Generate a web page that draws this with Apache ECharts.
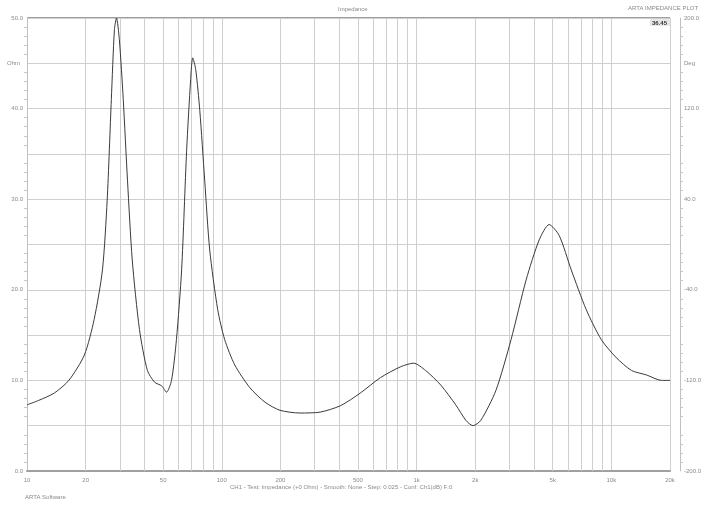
<!DOCTYPE html>
<html><head><meta charset="utf-8">
<script src="https://cdn.jsdelivr.net/npm/echarts@6/dist/echarts.min.js"></script>
<style>html,body{margin:0;padding:0;background:#fff}#c{width:705px;height:508px}</style>
</head><body><div id="c"></div>
<script>
// Frequency (Hz) and impedance magnitude (Ohm)
const freqs = [10, 11.5, 13.8, 16.4, 19.7, 22.1, 24.4, 25.8, 27.1, 28.1, 28.8, 29.8, 31.2, 32.8, 34.7, 37.8, 41.5, 45.2, 49.1, 52.0, 55.2, 58.5, 62.2, 66.0, 69.2, 70.9, 73.5, 77.1, 81.7, 86.7, 95.3, 103.5, 116.6, 139.3, 166.6, 199, 252, 320, 406, 514, 652, 827, 966, 1112, 1329, 1589, 1790, 1946, 2138, 2555, 3055, 3652, 4261, 4790, 5395, 6223, 7433, 8880, 10610, 12680, 15150, 18110, 20000];
const ohms  = [7.3, 7.8, 8.6, 10.0, 12.8, 16.7, 22.2, 29.9, 41.0, 48.7, 50.0, 47.6, 41.0, 32.1, 23.3, 15.6, 11.1, 9.8, 9.4, 8.7, 10.0, 14.5, 22.2, 35.4, 43.2, 45.6, 44.3, 39.8, 32.1, 24.4, 17.8, 14.5, 11.7, 9.2, 7.6, 6.7, 6.4, 6.5, 7.2, 8.6, 10.3, 11.5, 11.9, 11.1, 9.5, 7.3, 5.6, 5.0, 5.6, 8.9, 14.5, 21.1, 25.5, 27.2, 26.0, 22.2, 17.8, 14.5, 12.5, 11.1, 10.6, 10.0, 10.0];
// Minor frequency grid lines and the ones that carry a label
const gridFreqs = [20,30,40,50,60,70,80,90,200,300,400,500,600,700,800,900,2000,3000,4000,5000,6000,7000,8000,9000];
const labeledFreqs = [20, 50, 200, 500, 2000, 5000];
const leftTicks = [0, 10, 20, 30, 40, 50];
const rightTicks = [-200, -120, -40, 40, 120, 200];

const fmtHz = v => v >= 1000 ? (v/1000) + 'k' : String(v);
const gridCol = '#cfcfcf';
const txtCol = '#8a8a8a';
const fs = 6;

const chart = echarts.init(document.getElementById('c'));
chart.setOption({
  animation: false,
  backgroundColor: '#fff',
  textStyle: {fontFamily: 'Liberation Sans, Arial, sans-serif'},
  grid: {left: 27, right: 35, top: 18, bottom: 37, containLabel: false, outerBoundsMode: 'none'},
  xAxis: {
    type: 'log', logBase: 10, min: 10, max: 20000,
    axisLine: {show: true, lineStyle: {color: '#a0a0a0', width: 2}},
    axisTick: {show: false},
    axisLabel: {color: txtCol, fontSize: fs, margin: 6, formatter: fmtHz, showMaxLabel: true, showMinLabel: true},
    splitLine: {show: true, lineStyle: {color: gridCol, width: 1}},
    name: 'Hz', nameLocation: 'end', nameGap: 14,
    nameTextStyle: {color: txtCol, fontSize: fs}
  },
  yAxis: [{
    type: 'value', min: 0, max: 50, interval: 5, position: 'left',
    axisLine: {show: true, lineStyle: {color: '#c0c0c0'}},
    axisTick: {show: false},
    minorTick: {show: true, splitNumber: 5, length: 3, lineStyle: {color: '#c8c8c8'}},
    axisLabel: {color: txtCol, fontSize: fs, margin: 4,
      formatter: v => leftTicks.includes(v) ? v.toFixed(1) : ''},
    splitLine: {show: true, lineStyle: {color: gridCol, width: 1}}
  }, {
    type: 'value', min: -200, max: 200, interval: 40, position: 'right', offset: 10,
    axisLine: {show: true, lineStyle: {color: '#c0c0c0'}},
    axisTick: {show: false},
    minorTick: {show: true, splitNumber: 5, length: 3, lineStyle: {color: '#c8c8c8'}},
    axisLabel: {color: txtCol, fontSize: fs, margin: 4,
      formatter: v => rightTicks.includes(v) ? v.toFixed(1) : ''},
    splitLine: {show: false}
  }],
  graphic: [
    {type: 'rect', shape: {x: 27, y: 17, width: 643, height: 2}, style: {fill: '#a0a0a0'}, silent: true},
    {type: 'text', left: 338, top: 6, style: {text: 'Impedance', fill: txtCol, font: '6px Liberation Sans'}},
    {type: 'text', left: 628, top: 5, style: {text: 'ARTA IMPEDANCE PLOT', fill: txtCol, font: '6px Liberation Sans'}},
    {type: 'rect', shape: {x: 650, y: 19, width: 20, height: 7}, style: {fill: '#e8e8e8'}, silent: true},
    {type: 'text', left: 652, top: 20, style: {text: '36.45', fill: '#333', font: 'bold 6px Liberation Sans'}},
    {type: 'text', left: 7, top: 60, style: {text: 'Ohm', fill: txtCol, font: '6px Liberation Sans'}},
    {type: 'text', left: 684, top: 60, style: {text: 'Deg', fill: txtCol, font: '6px Liberation Sans'}},
    {type: 'text', left: 230, top: 484, style: {text: 'CH1 - Test: Impedance (+0 Ohm) - Smooth: None - Step: 0.025 - Conf: Ch1(dB) F:0', fill: txtCol, font: '6px Liberation Sans'}},
    {type: 'text', left: 25, top: 494, style: {text: 'ARTA Software', fill: txtCol, font: '6px Liberation Sans'}}
  ],
  series: [{
    type: 'line', yAxisIndex: 0, showSymbol: false, smooth: 0.25,
    data: freqs.map((f, i) => [f, ohms[i]]),
    lineStyle: {color: '#3a3a3a', width: 1},
    z: 5,
    markLine: {
      silent: true, symbol: 'none', animation: false,
      lineStyle: {color: gridCol, width: 1, type: 'solid'},
      label: {show: false},
      data: gridFreqs.map(f => ({
        xAxis: f,
        label: {show: labeledFreqs.includes(f), position: 'start', distance: 6,
                formatter: fmtHz(f), color: txtCol, fontSize: fs}
      }))
    }
  }]
});
</script></body></html>
